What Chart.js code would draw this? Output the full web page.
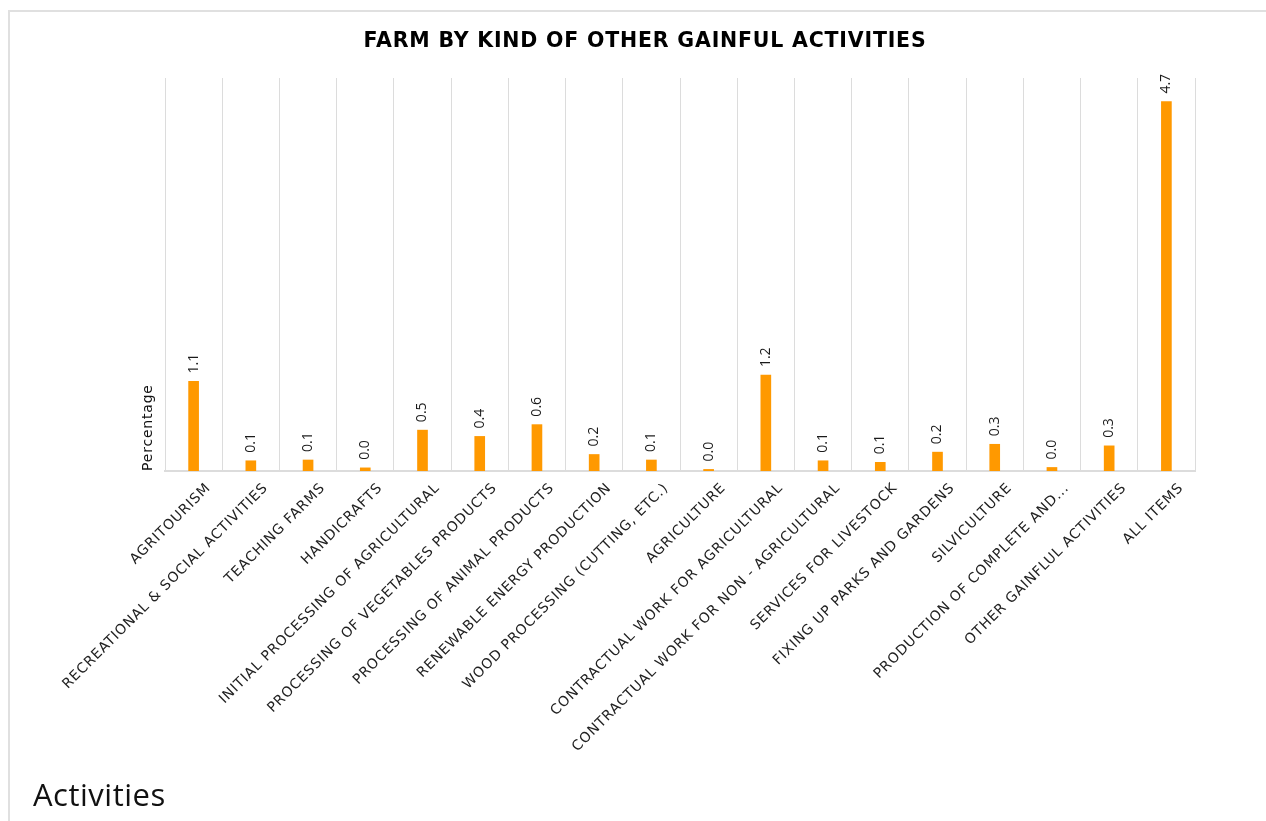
<!DOCTYPE html>
<html>
<head>
<meta charset="utf-8">
<script src="https://cdn.jsdelivr.net/npm/chart.js@4.4.1/dist/chart.umd.min.js"></script>
<style>
  html, body { margin: 0; padding: 0; background: #fff; overflow: hidden; }
  #card { position: absolute; left: 8px; top: 10px; width: 1400px; height: 1000px; border: 2px solid #e0e0e0; box-sizing: border-box; }
  #c { position: absolute; left: 0; top: 0; }
</style>
</head>
<body>
<div id="card"></div>
<canvas id="c" width="1266" height="821"></canvas>
<script>
const chartTitle = 'FARM BY KIND OF OTHER GAINFUL ACTIVITIES';
const yAxisTitle = 'Percentage';
const xAxisTitle = 'Activities';
const categories = [
  'AGRITOURISM',
  'RECREATIONAL & SOCIAL ACTIVITIES',
  'TEACHING FARMS',
  'HANDICRAFTS',
  'INITIAL PROCESSING OF AGRICULTURAL',
  'PROCESSING OF VEGETABLES PRODUCTS',
  'PROCESSING OF ANIMAL PRODUCTS',
  'RENEWABLE ENERGY PRODUCTION',
  'WOOD PROCESSING (CUTTING, ETC.)',
  'AGRICULTURE',
  'CONTRACTUAL WORK FOR AGRICULTURAL',
  'CONTRACTUAL WORK FOR NON - AGRICULTURAL',
  'SERVICES FOR LIVESTOCK',
  'FIXING UP PARKS AND GARDENS',
  'SILVICULTURE',
  'PRODUCTION OF COMPLETE AND...',
  'OTHER GAINFLUL ACTIVITIES',
  'ALL ITEMS'
];
const percentages = [1.14, 0.13, 0.14, 0.04, 0.52, 0.44, 0.59, 0.21, 0.14, 0.02, 1.22, 0.13, 0.11, 0.24, 0.34, 0.045, 0.32, 4.70];

const FONT = "'DejaVu Sans', sans-serif";
const FONT2 = "'Open Sans', 'DejaVu Sans', sans-serif";
const barColor = '#ff9900';
const SPACING = '0.8px';

const spacingPlugin = {
  id: 'spacingPlugin',
  beforeUpdate(chart) { chart.ctx.letterSpacing = SPACING; },
  beforeDraw(chart) { chart.ctx.letterSpacing = SPACING; }
};

const valueLabels = {
  id: 'valueLabels',
  afterDatasetsDraw(chart) {
    const ctx = chart.ctx;
    const meta = chart.getDatasetMeta(0);
    const data = chart.data.datasets[0].data;
    ctx.save();
    ctx.letterSpacing = '0px';
    ctx.font = '14px ' + FONT2;
    ctx.fillStyle = '#1a1a1a';
    meta.data.forEach((bar, i) => {
      ctx.save();
      ctx.translate(bar.x, bar.y - 8);
      ctx.rotate(-Math.PI / 2);
      ctx.textAlign = 'left';
      ctx.textBaseline = 'middle';
      ctx.fillText(data[i].toFixed(1), 0, 0);
      ctx.restore();
    });
    ctx.restore();
  }
};

const textPlugin = {
  id: 'textPlugin',
  afterDraw(chart) {
    const ctx = chart.ctx;
    ctx.save();
    ctx.letterSpacing = '0.8px';
    ctx.font = 'bold 20.5px ' + FONT;
    ctx.fillStyle = '#000';
    ctx.textAlign = 'center';
    ctx.textBaseline = 'middle';
    ctx.fillText(chartTitle, 645, 42);
    ctx.letterSpacing = '0.5px';
    ctx.font = '31px ' + FONT2;
    ctx.fillStyle = '#111';
    ctx.textAlign = 'left';
    ctx.textBaseline = 'alphabetic';
    ctx.fillText(xAxisTitle, 33, 806);
    ctx.restore();
  }
};

new Chart(document.getElementById('c'), {
  type: 'bar',
  data: {
    labels: categories,
    datasets: [{
      label: yAxisTitle,
      data: percentages,
      backgroundColor: barColor,
      borderWidth: 0,
      barThickness: 10
    }]
  },
  options: {
    responsive: false,
    animation: false,
    layout: { padding: { left: 136, right: 71, top: 78, bottom: 0 } },
    plugins: {
      legend: { display: false },
      tooltip: { enabled: false },
      title: { display: false }
    },
    scales: {
      x: {
        grid: { display: true, color: '#dcdcdc', lineWidth: 1, drawTicks: false, offset: true },
        border: { display: true, color: '#dcdcdc', width: 2 },
        ticks: {
          color: '#222',
          font: { family: FONT, size: 14 },
          minRotation: 45,
          maxRotation: 45,
          autoSkip: false,
          padding: 9,
          labelOffset: 15
        },
        afterFit(scale) { scale.height = 350; }
      },
      y: {
        min: 0,
        max: 5,
        grid: { display: false },
        border: { display: false },
        ticks: { display: false },
        title: {
          display: true,
          text: yAxisTitle,
          align: 'start',
          color: '#111',
          font: { family: FONT, size: 14 },
          padding: { top: 4, bottom: 4 }
        },
        afterFit(scale) { scale.width = 29; }
      }
    }
  },
  plugins: [spacingPlugin, valueLabels, textPlugin]
});
</script>
</body>
</html>
